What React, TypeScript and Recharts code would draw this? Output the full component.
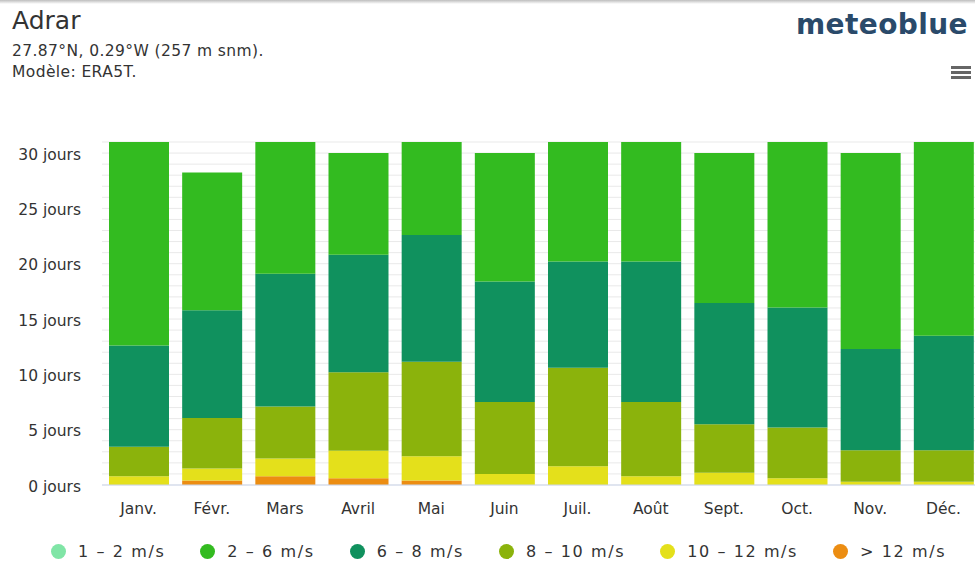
import React from 'react';
import { BarChart, Bar, XAxis, YAxis, CartesianGrid } from 'recharts';

const months = ['Janv.', 'Févr.', 'Mars', 'Avril', 'Mai', 'Juin', 'Juil.', 'Août', 'Sept.', 'Oct.', 'Nov.', 'Déc.'];

// days per month in each wind speed class
const s1to2 = [0, 0, 0, 0, 0, 0, 0, 0, 0, 0, 0, 0];
const s2to6 = [18.4, 12.45, 11.9, 9.2, 8.4, 11.6, 10.8, 10.8, 13.55, 14.95, 17.7, 17.5];
const s6to8 = [9.15, 9.75, 12.0, 10.6, 11.45, 10.9, 9.6, 12.7, 10.95, 10.85, 9.15, 10.35];
const s8to10 = [2.65, 4.55, 4.7, 7.1, 8.55, 6.5, 8.9, 6.7, 4.4, 4.6, 2.85, 2.85];
const s10to12 = [0.8, 1.1, 1.6, 2.5, 2.2, 1.0, 1.7, 0.8, 1.1, 0.6, 0.3, 0.3];
const sOver12 = [0, 0.4, 0.8, 0.6, 0.4, 0, 0, 0, 0, 0, 0, 0];

const yTicks = Array.from({ length: 32 }, (_, i) => i);

// legend order
const series = [
    { key: 's1to2', name: '1 – 2 m/s', color: '#80e5a6', values: s1to2 },
    { key: 's2to6', name: '2 – 6 m/s', color: '#33bb20', values: s2to6 },
    { key: 's6to8', name: '6 – 8 m/s', color: '#10915e', values: s6to8 },
    { key: 's8to10', name: '8 – 10 m/s', color: '#8bb30c', values: s8to10 },
    { key: 's10to12', name: '10 – 12 m/s', color: '#e4e01b', values: s10to12 },
    { key: 'sOver12', name: '> 12 m/s', color: '#ec8d12', values: sOver12 },
];

const data = months.map((m, i) => {
    const row: any = { month: m };
    series.forEach((s) => {
        row[s.key] = s.values[i];
    });
    return row;
});

// stacked from the ground up: strongest wind at the bottom
const stackOrder = [...series].reverse();

const font = '"DejaVu Sans", Verdana, sans-serif';

export default function App() {
    return (
        <div
            style={{
                position: 'fixed',
                left: 0,
                top: 0,
                width: 975,
                height: 568,
                overflow: 'hidden',
                background: '#fff',
                fontFamily: font,
                color: '#333',
            }}
        >
            {/* top shadow line */}
            <div style={{ position: 'absolute', left: 0, top: 0, width: 975, height: 4, background: 'linear-gradient(#bdbdbd, #fff)' }} />

            <div style={{ position: 'absolute', left: 12, top: 6, fontSize: 25, color: '#333' }}>Adrar</div>
            <div
                style={{
                    position: 'absolute',
                    left: 12,
                    top: 41,
                    fontSize: 15.5,
                    letterSpacing: 0.4,
                    lineHeight: '21px',
                    color: '#333',
                }}
            >
                27.87°N, 0.29°W (257 m snm).
                <br />
                Modèle: ERA5T.
            </div>

            <div
                style={{
                    position: 'absolute',
                    left: 796,
                    top: 8,
                    fontSize: 28,
                    fontWeight: 'bold',
                    color: '#2a4a6a',
                    letterSpacing: 0.4,
                }}
            >
                meteoblue
            </div>
            {/* menu icon */}
            <div style={{ position: 'absolute', left: 951, top: 66 }}>
                {[0, 5, 10].map((t) => (
                    <div key={t} style={{ position: 'absolute', top: t, width: 20, height: 3, background: '#666' }} />
                ))}
            </div>

            <div style={{ position: 'absolute', left: 0, top: 0 }}>
                <BarChart width={980} height={568} data={data} margin={{ top: 142, right: 0, left: 0, bottom: 53 }}>
                    <CartesianGrid vertical={false} stroke="#e9e9e9" />
                    <XAxis
                        dataKey="month"
                        height={30}
                        tickLine={false}
                        axisLine={{ stroke: '#ccd6eb' }}
                        tickMargin={12}
                        tick={{ fill: '#333', fontSize: 15.5, fontFamily: font }}
                        interval={0}
                    />
                    <YAxis
                        width={102}
                        domain={[0, 31]}
                        ticks={yTicks}
                        interval={0}
                        tickFormatter={(v: number) => (v % 5 === 0 ? `${v} jours` : '')}
                        tickLine={false}
                        axisLine={false}
                        tickMargin={15}
                        dy={1}
                        tick={{ fill: '#333', fontSize: 15.5, fontFamily: font }}
                    />
                    {stackOrder.map((s) => (
                        <Bar
                            key={s.key}
                            dataKey={s.key}
                            name={s.name}
                            stackId="wind"
                            fill={s.color}
                            barSize={60}
                            isAnimationActive={false}
                        />
                    ))}
                </BarChart>
            </div>

            {/* legend */}
            <div
                style={{
                    position: 'absolute',
                    left: 51,
                    top: 542,
                    display: 'flex',
                    gap: 35,
                    fontSize: 16,
                    letterSpacing: 1.6,
                    color: '#333',
                    alignItems: 'center',
                    whiteSpace: 'nowrap',
                }}
            >
                {series.map((s) => (
                    <div key={s.key} style={{ display: 'flex', alignItems: 'center' }}>
                        <span
                            style={{
                                display: 'inline-block',
                                width: 15,
                                height: 15,
                                borderRadius: '50%',
                                background: s.color,
                                marginRight: 12,
                            }}
                        />
                        <span>{s.name}</span>
                    </div>
                ))}
            </div>
        </div>
    );
}
